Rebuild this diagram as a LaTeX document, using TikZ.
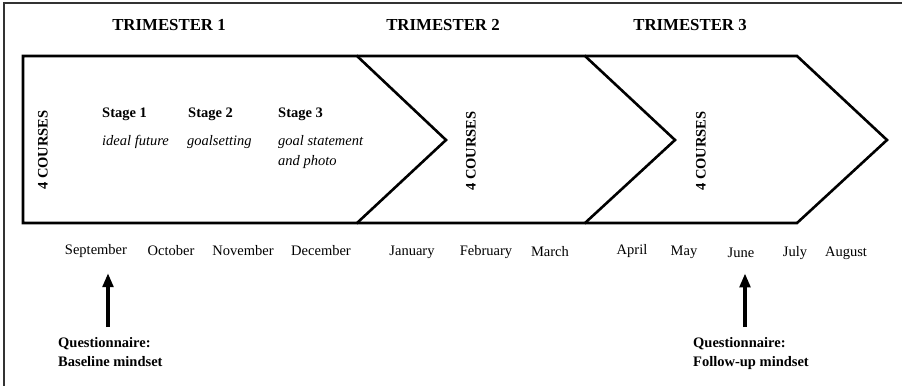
\documentclass[tikz,border=0pt]{standalone}
\usepackage{fontspec}
\setmainfont{Liberation Serif}
\usepackage{tikz}
\usetikzlibrary{positioning, arrows.meta}
\tikzset{
x=1pt, y=-1pt, % one unit is one pixel of the layout, y runs down
chevron/.style={line width=2.6pt, line join=miter}, % outline of each term block
courses/.style={rotate=90, font=\bfseries\fontsize{14.5}{17}\selectfont}, % side text
term/.style={font=\bfseries\fontsize{16.8}{20}\selectfont}, % trimester headings
stage/.style={anchor=base west, inner sep=0pt, font=\bfseries\fontsize{14.5}{17}\selectfont},
task/.style={anchor=base west, align=left, inner sep=0pt, font=\itshape\fontsize{14.5}{20}\selectfont},
month/.style={font=\fontsize{14.5}{17}\selectfont},
survey/.style={anchor=north west, align=left, inner sep=0pt, font=\bfseries\fontsize{14.5}{19}\selectfont},
bigarrow/.style={-{Triangle[width=10.5pt,length=14pt]}, line width=3.6pt, shorten >=12pt},
}

\begin{document}
\begin{tikzpicture}
    \useasboundingbox (0,0) rectangle (902,386);
    % outer frame (right and bottom run off the page)
    \draw[line width=1.2pt, black!80] (902,3) -- (4,3) -- (4,386);

    % the three term blocks
    \draw[chevron] (23,56) -- (357,56) -- (446,140) -- (357,223) -- (23,223) -- cycle;
    \draw[chevron] (357,56) -- (585,56) -- (675,140) -- (585,223) -- (357,223);
    \draw[chevron] (585,56) -- (797,56) -- (887,140) -- (797,223) -- (585,223);

    % headings
    \node[term] (t1) at (169,25) {TRIMESTER 1};
    \node[term] (t2) at (443,25) {TRIMESTER 2};
    \node[term] (t3) at (690,25) {TRIMESTER 3};

    \node[courses] (c1) at (43,150) {4 COURSES};
    \node[courses] (c2) at (471,151) {4 COURSES};
    \node[courses] (c3) at (701,151) {4 COURSES};

    % stages of trimester 1
    \node[stage] (s1) at (102,117) {Stage 1};
    \node[stage] (s2) at (188,117) {Stage 2};
    \node[stage] (s3) at (278,117) {Stage 3};
    \node[task] (g1) at (102,145) {ideal future};
    \node[task] (g2) at (187,145) {goalsetting};
    \node[task] (g3) at (278,165) {goal statement\\and photo}; % base is the last line

    % months
    \node[month] (sep) at (96,251) {September};
    \node[month] (oct) at (171,251) {October};
    \node[month] (nov) at (243,251) {November};
    \node[month] (dec) at (321,251) {December};
    \node[month] (jan) at (412,252) {January};
    \node[month] (feb) at (486,252) {February};
    \node[month] (mar) at (550,252) {March};
    \node[month] (apr) at (632,251) {April};
    \node[month] (may) at (684,252) {May};
    \node[month] (jun) at (741,253) {June};
    \node[month] (jul) at (795,253) {July};
    \node[month] (aug) at (846,253) {August};

    % questionnaires
    \node[survey] (q1) at (58,337) {Questionnaire:\\Baseline mindset};
    \node[survey] (q2) at (693,337) {Questionnaire:\\Follow-up mindset};
    \coordinate (a1) at (108,327);
    \coordinate (a2) at (745,327);
    \draw[bigarrow] (a1) -- (a1 |- sep.south);
    \draw[bigarrow] (a2) -- (a2 |- jun.south);
\end{tikzpicture}
\end{document}
